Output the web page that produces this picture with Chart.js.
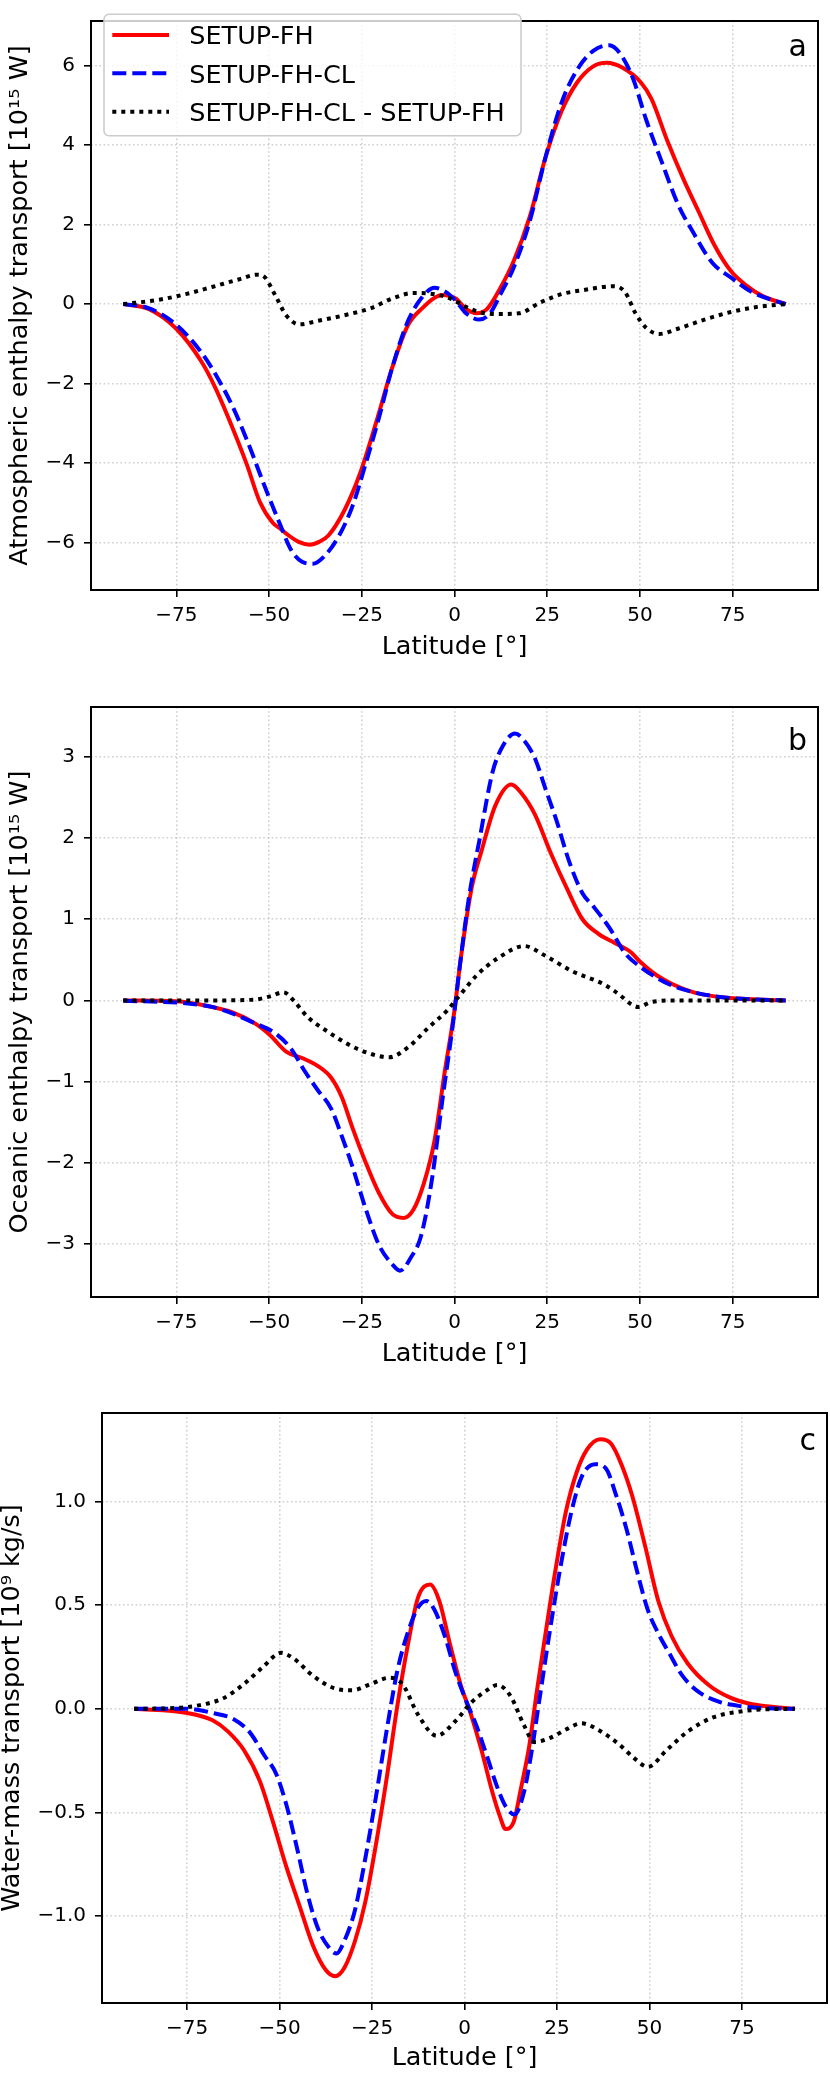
<!DOCTYPE html>
<html><head><meta charset="utf-8">
<script src="https://cdn.jsdelivr.net/npm/chart.js@4.4.1/dist/chart.umd.min.js"></script>
<style>
html,body{margin:0;padding:0;background:#fff;overflow:hidden;width:830px;height:2073px;}
canvas{position:absolute;left:0;}
</style></head><body>
<canvas id="ca" width="830" height="680" style="top:0px;width:830px;height:680px"></canvas>
<canvas id="cb" width="830" height="700" style="top:680px;width:830px;height:700px"></canvas>
<canvas id="cc" width="830" height="693" style="top:1380px;width:830px;height:693px"></canvas>
<script>
// ---------- labels ----------
const seriesLabels = ['SETUP-FH', 'SETUP-FH-CL', 'SETUP-FH-CL - SETUP-FH'];
const xTitle = 'Latitude [°]';
const yTitleA = 'Atmospheric enthalpy transport [10¹⁵ W]';
const yTitleB = 'Oceanic enthalpy transport [10¹⁵ W]';
const yTitleC = 'Water-mass transport [10⁹ kg/s]';
const xTicks = [-75, -50, -25, 0, 25, 50, 75];
const yTicksA = [-6, -4, -2, 0, 2, 4, 6];
const yTicksB = [-3, -2, -1, 0, 1, 2, 3];
const yTicksC = [-1.0, -0.5, 0.0, 0.5, 1.0];

// ---------- panel a : atmospheric enthalpy transport ----------
const aLatFH = [-89.3,-82.5,-75,-68.2,-64.6,-61,-56,-52.5,-49,-46.8,-45.4,-42,-39,-36.5,-34,-29.7,-25.4,-21.1,-16.8,-12.6,-8.3,-5.5,-3.3,0.3,3.1,6,8.8,12.4,16,20.3,24.5,28.8,33.1,37.4,41,45.2,50.2,53.1,57.4,61.7,65.9,70.2,74.5,78.8,83.1,89.3];
const aFH    = [0,-0.12,-0.62,-1.45,-2.08,-2.85,-4.03,-4.97,-5.5,-5.66,-5.77,-5.98,-6.05,-5.98,-5.82,-5.19,-4.24,-2.97,-1.6,-0.54,-0.07,0.15,0.23,0.14,-0.12,-0.23,-0.12,0.41,1.09,2.2,3.68,4.84,5.58,5.98,6.07,5.95,5.58,5.16,4.1,3.15,2.31,1.46,0.83,0.46,0.2,0];
const aLatCL = [-89.3,-82.5,-75,-68.2,-63.9,-59.7,-55.4,-51.1,-47.2,-44,-41.1,-38.2,-34.7,-31.1,-27.5,-24,-20.4,-16.8,-12.6,-9,-5.4,-2.6,0.3,3.1,6.7,9.6,12.4,16,20.3,24.5,28.8,33.1,37.4,41.7,44.5,48.1,51.7,55.9,60.2,64.5,69.5,74.5,80.2,89.3];
const aCL    = [0,-0.1,-0.52,-1.22,-1.85,-2.6,-3.55,-4.6,-5.5,-6.19,-6.48,-6.53,-6.3,-5.82,-5.08,-4.03,-2.87,-1.6,-0.44,0.14,0.41,0.32,0.09,-0.23,-0.39,-0.23,0.25,0.93,2.09,3.68,5.05,5.9,6.37,6.51,6.32,5.68,4.63,3.57,2.52,1.78,1.04,0.67,0.3,0];
const aLatDiff = [-89.3,-79.6,-72.5,-65.4,-58.2,-53.2,-51.1,-48.2,-45.4,-41.8,-36.8,-29.7,-22.5,-16.8,-11.1,-5.4,-1.1,3.1,6.7,11.7,17.4,23.1,28.8,34.5,43.1,46,48.8,51.7,55.2,60.2,67.4,74.5,81.6,89.3];
const aDiff    = [0,0.11,0.25,0.43,0.62,0.74,0.67,0.2,-0.28,-0.51,-0.42,-0.28,-0.1,0.14,0.28,0.25,0.14,-0.07,-0.2,-0.25,-0.23,0.04,0.25,0.35,0.45,0.3,-0.23,-0.6,-0.75,-0.62,-0.39,-0.2,-0.07,0];

// ---------- panel b : oceanic enthalpy transport ----------
const bLatFH = [-89.3,-75,-65.4,-59.7,-53.9,-49.7,-45.4,-41.1,-36.8,-33.3,-30.4,-27.5,-24,-20.4,-16.8,-13.7,-11.1,-8.3,-5.4,-2.6,0,1.7,4.6,7.4,11,15.3,18.1,21.7,26,30.3,34.5,38.8,43.1,47.4,50.2,54.5,58.8,64.5,70.2,77.4,89.3];
const bFH    = [0,-0.01,-0.08,-0.15,-0.28,-0.43,-0.63,-0.71,-0.81,-0.95,-1.19,-1.57,-1.99,-2.37,-2.63,-2.68,-2.58,-2.26,-1.73,-0.87,-0.12,0.52,1.38,1.86,2.4,2.66,2.55,2.29,1.81,1.38,1.0,0.82,0.71,0.6,0.47,0.31,0.2,0.1,0.05,0.02,0];
const bLatCL = [-89.3,-65.4,-53.9,-48.2,-44,-40.4,-36.8,-33.3,-30.4,-27.5,-24,-20.4,-16.8,-14.7,-11.8,-9,-6.1,-3.3,-0.4,1.4,3.9,6.7,10.3,13.1,16.3,18.8,21.7,24.5,27.4,31,34.5,37.4,41.7,46,50.2,54.5,58.8,64.5,70.2,77.4,89.3];
const bCL    = [0,-0.08,-0.28,-0.41,-0.6,-0.87,-1.11,-1.33,-1.67,-2.05,-2.56,-3.01,-3.25,-3.33,-3.17,-2.9,-2.21,-1.24,-0.28,0.41,1.27,1.97,2.82,3.14,3.29,3.2,2.98,2.61,2.23,1.7,1.32,1.16,0.9,0.58,0.41,0.28,0.18,0.1,0.05,0.02,0];
const bLatDiff = [-89.3,-65.4,-53.9,-49.7,-46.1,-43.2,-39.7,-34,-28.3,-22.5,-17.6,-12.6,-6.9,-1.9,1,6,11.7,18.8,24.5,31.7,40.2,44.5,47.4,49.5,53.1,60.2,89.3];
const bDiff    = [0,0,0.01,0.05,0.1,-0.01,-0.2,-0.39,-0.55,-0.66,-0.7,-0.58,-0.33,-0.12,0.04,0.31,0.52,0.67,0.55,0.36,0.2,0.07,-0.04,-0.08,-0.02,0,0];

// ---------- panel c : water-mass transport ----------
const cLatFH = [-89.3,-75,-68.1,-63.9,-59.6,-55.3,-51.7,-48.2,-44.6,-41,-37.5,-35,-32.5,-29.6,-26.8,-23.9,-21,-18.2,-15.3,-12.5,-9.3,-6.8,-3.9,-1.1,1.8,4.6,7.5,9.6,11.1,13.2,15.3,17.5,19.6,21.8,24.6,27.4,30.3,33.1,36.7,39.6,42.4,45.3,48.9,52.4,56,60.3,66,71.7,77.4,83.1,89.3];
const cFH    = [0,-0.02,-0.055,-0.11,-0.2,-0.35,-0.55,-0.76,-0.95,-1.14,-1.26,-1.29,-1.25,-1.12,-0.93,-0.65,-0.33,0.01,0.31,0.54,0.6,0.52,0.31,0.12,-0.03,-0.2,-0.4,-0.52,-0.58,-0.55,-0.38,-0.18,0.09,0.35,0.67,0.95,1.14,1.25,1.3,1.28,1.18,1.03,0.78,0.52,0.35,0.22,0.115,0.055,0.023,0.01,0];
const cLatCL = [-89.3,-75,-68.1,-62.4,-58.2,-53.9,-51,-48.2,-45.3,-42.5,-39.6,-36.7,-34.6,-32.5,-29.6,-26.8,-23.9,-21,-18.2,-15.3,-12.5,-10.3,-8.2,-5.3,-2.5,0.4,3.2,6.1,8.9,11.1,13.5,16.1,18.2,20.3,23.2,26,28.9,31.7,35.3,38.2,41,43.9,46.7,49.5,52.5,55.3,58.9,63.2,68.9,74.6,80.3,89.3];
const cCL    = [0,0,-0.02,-0.05,-0.11,-0.23,-0.31,-0.46,-0.67,-0.89,-1.06,-1.15,-1.18,-1.12,-0.97,-0.72,-0.42,-0.1,0.18,0.37,0.49,0.52,0.48,0.35,0.18,0.04,-0.08,-0.23,-0.38,-0.47,-0.51,-0.4,-0.2,0.05,0.39,0.69,0.95,1.12,1.18,1.16,1.03,0.86,0.66,0.48,0.36,0.27,0.16,0.083,0.034,0.013,0.004,0];
const cLatDiff = [-89.3,-78.1,-71,-65.3,-59.6,-54.6,-49.6,-46,-41,-35.3,-30.3,-25.3,-20.3,-16.8,-12.5,-7.5,-2.5,1.8,6.1,8.9,12.5,16.1,18.9,23.2,27.4,31.7,36,41.7,46,49.6,54.6,60.3,67.4,74.6,81.7,89.3];
const cDiff    = [0,0.004,0.02,0.05,0.12,0.2,0.27,0.24,0.16,0.1,0.09,0.12,0.15,0.12,-0.03,-0.13,-0.06,0.03,0.09,0.115,0.06,-0.08,-0.16,-0.14,-0.1,-0.07,-0.1,-0.17,-0.24,-0.28,-0.2,-0.11,-0.04,-0.013,-0.002,0];

// ---------- styling ----------
const FONT = "'DejaVu Sans', 'Liberation Sans', sans-serif";
Chart.defaults.font.family = FONT;
Chart.defaults.color = '#000';
const lineStyles = [
  {color:'#ff0000', dash:[], order:3},
  {color:'#0000ff', dash:[14,6], order:2},
  {color:'#000000', dash:[4,5], order:1}
];
const minus = s => String(s).replace('-', '\u2212');
const fmtInt = v => minus(Math.round(v));
const fmtOne = v => minus((Math.abs(v) < 1e-9 ? 0 : v).toFixed(1));

const framePlugin = {
  id: 'frame',
  afterDatasetsDraw(chart) {
    const {ctx, chartArea: {left, top, right, bottom}} = chart;
    ctx.save();
    ctx.strokeStyle = '#000'; ctx.lineWidth = 2; ctx.setLineDash([]);
    const l = Math.round(left), t = Math.round(top), r = Math.round(right), b = Math.round(bottom);
    ctx.strokeRect(l, t, r - l, b - t);
    ctx.restore();
  }
};
function letterPlugin(letter, dy) {
  return {
    id: 'letter',
    afterDraw(chart) {
      const {ctx, chartArea: {top, right}} = chart;
      ctx.save();
      ctx.font = '30px ' + FONT; ctx.fillStyle = '#000';
      ctx.textAlign = 'right'; ctx.textBaseline = 'alphabetic';
      ctx.fillText(letter, right - 11, top + dy);
      ctx.restore();
    }
  };
}
const legendPlugin = {
  id: 'innerLegend',
  afterDraw(chart) {
    const ctx = chart.ctx;
    ctx.save();
    const bx = 104, by = 14.3, bw = 417, bh = 121.4, r = 5;
    ctx.beginPath();
    ctx.moveTo(bx + r, by); ctx.lineTo(bx + bw - r, by); ctx.arcTo(bx + bw, by, bx + bw, by + r, r);
    ctx.lineTo(bx + bw, by + bh - r); ctx.arcTo(bx + bw, by + bh, bx + bw - r, by + bh, r);
    ctx.lineTo(bx + r, by + bh); ctx.arcTo(bx, by + bh, bx, by + bh - r, r);
    ctx.lineTo(bx, by + r); ctx.arcTo(bx, by, bx + r, by, r); ctx.closePath();
    ctx.fillStyle = 'rgba(255,255,255,0.8)'; ctx.fill();
    ctx.lineWidth = 1.6; ctx.strokeStyle = '#cccccc'; ctx.stroke();
    const rows = [35, 73.3, 111.7];
    chart.data.datasets.forEach((ds, i) => {
      const y = rows[i];
      ctx.beginPath();
      ctx.strokeStyle = ds.borderColor; ctx.lineWidth = 4; ctx.setLineDash(ds.borderDash);
      ctx.moveTo(112.3, y); ctx.lineTo(169, y); ctx.stroke();
      ctx.setLineDash([]);
      ctx.font = '25.5px ' + FONT; ctx.fillStyle = '#000';
      ctx.textAlign = 'left'; ctx.textBaseline = 'alphabetic';
      ctx.fillText(ds.label, 189.3, y + 9.3);
    });
    ctx.restore();
  }
};

function makePanel(id, p) {
  const datasets = p.series.map((s, i) => ({
    label: seriesLabels[i],
    data: s.lat.map((x, k) => ({x: x, y: s.val[k]})),
    borderColor: lineStyles[i].color,
    borderDash: lineStyles[i].dash,
    order: lineStyles[i].order,
    borderWidth: 4, pointRadius: 0, fill: false,
    cubicInterpolationMode: 'monotone', borderJoinStyle: 'round', borderCapStyle: 'butt'
  }));
  const gridCommon = {
    color: 'rgba(176,176,176,0.6)', lineWidth: 1.6, tickLength: 7,
    tickColor: '#000', tickWidth: 1.6, tickBorderDash: [], drawTicks: true
  };
  const plugins = [framePlugin, letterPlugin(p.letter, p.letterDy)];
  if (p.legend) plugins.push(legendPlugin);
  new Chart(document.getElementById(id), {
    type: 'line',
    data: {datasets},
    options: {
      responsive: false, animation: false, devicePixelRatio: 1,
      layout: {padding: p.pad},
      plugins: {legend: {display: false}, tooltip: {enabled: false}},
      scales: {
        x: {
          type: 'linear', min: -98, max: 98,
          afterBuildTicks: ax => { ax.ticks = xTicks.map(v => ({value: v})); },
          afterFit: s => { s.height = p.xHeight; },
          ticks: {font: {size: 20}, color: '#000', padding: 7, maxRotation: 0, autoSkip: false, callback: v => fmtInt(v)},
          grid: gridCommon,
          border: {display: false, dash: [1.6, 2.6]},
          title: {display: true, text: xTitle, color: '#000', font: {size: 25.5, lineHeight: 1}, padding: {top: 0, bottom: p.xTitlePad}}
        },
        y: {
          type: 'linear', min: p.yMin, max: p.yMax,
          afterBuildTicks: ax => { ax.ticks = p.yTicks.map(v => ({value: v})); },
          afterFit: s => { s.width = p.yWidth; },
          ticks: {font: {size: 20}, color: '#000', padding: 9, autoSkip: false, callback: v => p.yFmt(v)},
          grid: gridCommon,
          border: {display: false, dash: [1.6, 2.6]},
          title: {display: true, text: p.yTitle, color: '#000', font: {size: 25.5, lineHeight: 1}, padding: {top: p.yTitlePad, bottom: 0}}
        }
      }
    },
    plugins
  });
}

makePanel('ca', {
  series: [{lat: aLatFH, val: aFH}, {lat: aLatCL, val: aCL}, {lat: aLatDiff, val: aDiff}],
  yMin: -7.19, yMax: 7.12, yTicks: yTicksA, yFmt: fmtInt, yTitle: yTitleA,
  pad: {top: 1, right: 12, bottom: 0, left: 0}, yWidth: 91, xHeight: 90,
  xTitlePad: 20, yTitlePad: 8, letter: 'a', letterDy: 34.5, legend: true
});
makePanel('cb', {
  series: [{lat: bLatFH, val: bFH}, {lat: bLatCL, val: bCL}, {lat: bLatDiff, val: bDiff}],
  yMin: -3.654, yMax: 3.615, yTicks: yTicksB, yFmt: fmtInt, yTitle: yTitleB,
  pad: {top: 27, right: 12, bottom: 0, left: 0}, yWidth: 91, xHeight: 83,
  xTitlePad: 13, yTitlePad: 8, letter: 'b', letterDy: 42.5, legend: false
});
makePanel('cc', {
  series: [{lat: cLatFH, val: cFH}, {lat: cLatCL, val: cCL}, {lat: cLatDiff, val: cDiff}],
  yMin: -1.419, yMax: 1.427, yTicks: yTicksC, yFmt: fmtOne, yTitle: yTitleC,
  pad: {top: 33, right: 3, bottom: 0, left: 0}, yWidth: 102, xHeight: 70,
  xTitlePad: 2, yTitlePad: 0, letter: 'c', letterDy: 36.8, legend: false
});
</script>
</body></html>
